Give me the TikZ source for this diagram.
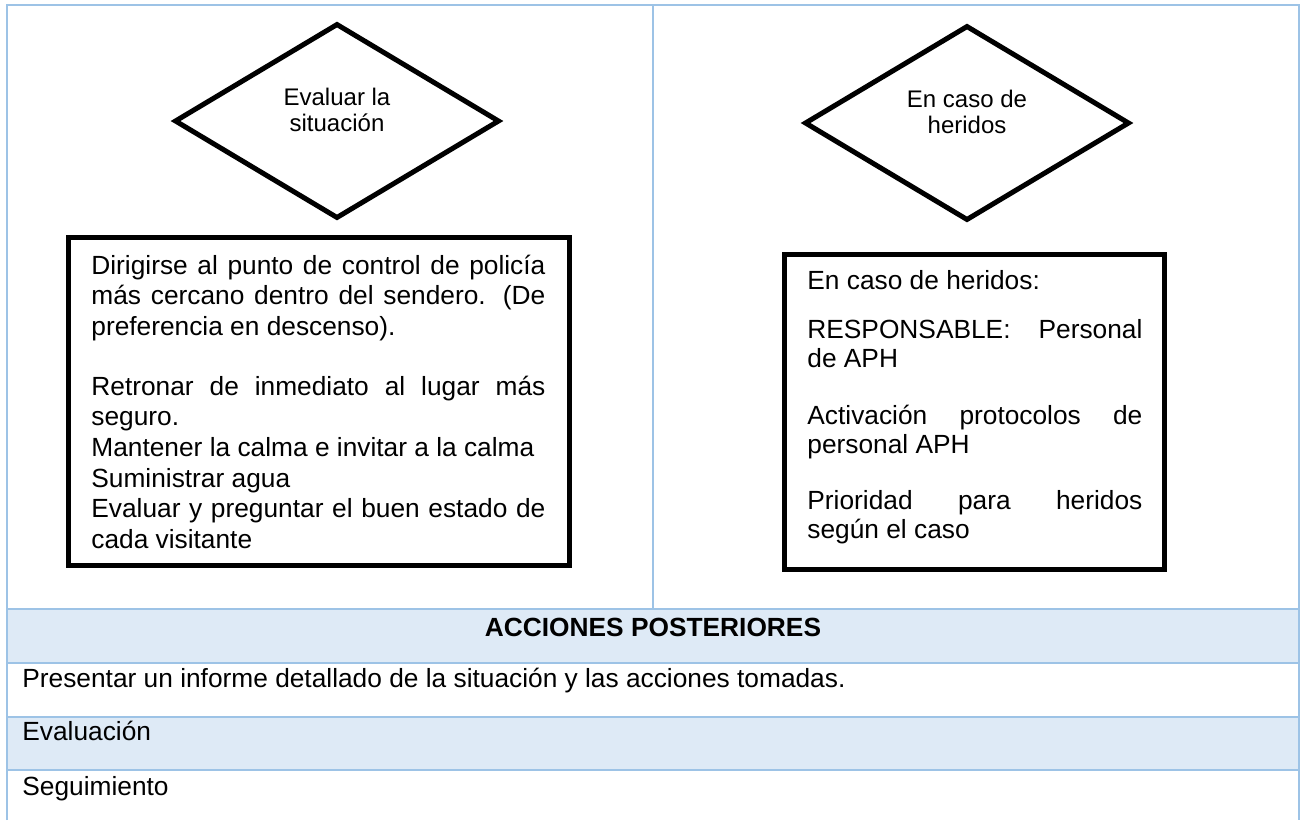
\documentclass[tikz,border=0pt]{standalone}
\usepackage{fontspec}
\setmainfont{Liberation Sans}
\usetikzlibrary{shapes.geometric}
\definecolor{gridblue}{HTML}{9DC3E6}
\definecolor{rowfill}{HTML}{DEEAF6}
\newcommand{\justline}[1]{\makebox[\linewidth][s]{#1}}
\begin{document}
\begin{tikzpicture}[x=0.5pt,y=-0.5pt,
  gridline/.style={draw=gridblue, line width=1pt},
  decision/.style={draw=black, line width=2.5pt, diamond, inner sep=0pt,
    minimum width=162.5pt, minimum height=97.5pt},
  actionbox/.style={draw=black, line width=2.5pt, rectangle, inner sep=0pt},
  dtext/.style={inner sep=0pt, align=center, font=\fontsize{12pt}{13pt}\selectfont},
  btext/.style={inner sep=0pt, anchor=base west},
  rowtext/.style={inner sep=0pt, anchor=base west, font=\fontsize{13.15pt}{15.3pt}\selectfont}]
\useasboundingbox (0,0) rectangle (1304,820);
% shaded rows
\fill[rowfill] (7,609) rectangle (1299,663);
\fill[rowfill] (7,717) rectangle (1299,770);
% grid lines
\draw[gridline] (7,820) -- (7,5) -- (1299,5) -- (1299,820);
\draw[gridline] (653,5) -- (653,609);
\draw[gridline] (7,609) -- (1299,609);
\draw[gridline] (7,663) -- (1299,663);
\draw[gridline] (7,717) -- (1299,717);
\draw[gridline] (7,770) -- (1299,770);
% diamonds
\node[decision] (d1) at (337,121) {};
\node[dtext] (d1t) at (337,110) {Evaluar la\\situación};
\node[decision] (d2) at (967,123) {};
\node[dtext] (d2t) at (967,112) {En caso de\\heridos};
% boxes
\node[actionbox, minimum width=250.5pt, minimum height=164pt] (b1) at (319,401.5) {};
\node[btext] (b1t) at (91,274) {\parbox[t]{227pt}{\fontsize{13.15pt}{15.3pt}\selectfont
\justline{Dirigirse al punto de control de policía}\\
\justline{más cercano dentro del sendero. (De}\\
preferencia en descenso).\\[14.7pt]
\justline{Retronar de inmediato al lugar más}\\
seguro.\\
Mantener la calma e invitar a la calma\\
Suministrar agua\\
\justline{Evaluar y preguntar el buen estado de}\\
cada visitante}};
\node[actionbox, minimum width=190pt, minimum height=157.5pt] (b2) at (974.5,412) {};
\node[btext] (b2t) at (807,289) {\parbox[t]{167.5pt}{\fontsize{13.15pt}{14.5pt}\selectfont
En caso de heridos:\\[10pt]
\justline{RESPONSABLE: Personal}\\
de APH\\[14pt]
\justline{Activación protocolos de}\\
personal APH\\[13.5pt]
\justline{Prioridad para heridos}\\
según el caso}};
% table texts
\node[inner sep=0pt, anchor=base, font=\fontsize{13.15pt}{15.3pt}\selectfont\bfseries] (hdr) at (653,636) {ACCIONES POSTERIORES};
\node[rowtext] (r1) at (22,687) {Presentar un informe detallado de la situación y las acciones tomadas.};
\node[rowtext] (r2) at (22,740) {Evaluación};
\node[rowtext] (r3) at (22,795) {Seguimiento};
\end{tikzpicture}
\end{document}
